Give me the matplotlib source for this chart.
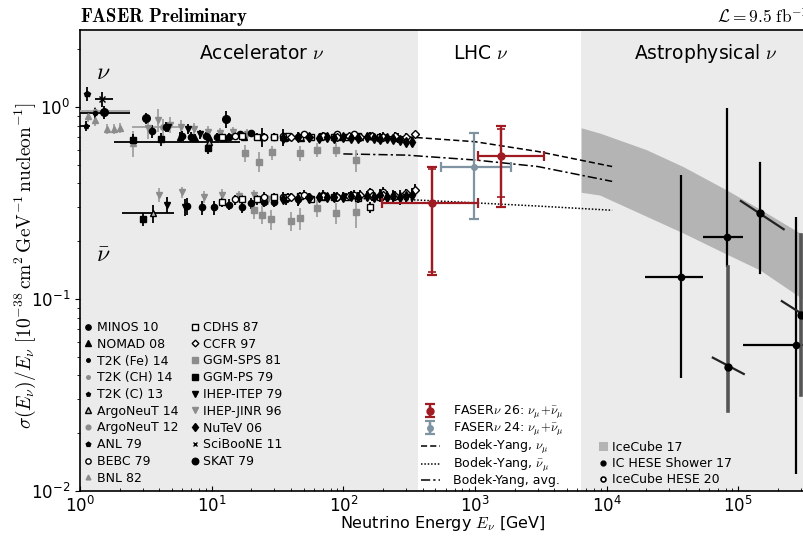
import matplotlib
matplotlib.use("Agg")
import numpy as np
import matplotlib.pyplot as plt
from matplotlib.lines import Line2D
from matplotlib.patches import Patch
from matplotlib.legend_handler import HandlerErrorbar
from matplotlib.transforms import blended_transform_factory

plt.rcParams["font.family"] = ["DejaVu Sans"]
plt.rcParams["mathtext.fontset"] = "cm"

# ---------------- accelerator data (E in GeV, sigma/E in 1e-38 cm^2/GeV) ----------------
anl_E = [1.13]
anl_y = [1.17]
anl_err = [0.10]

bnl_E = [1.15, 1.30, 1.60, 1.80, 2.00, 2.53]
bnl_y = [0.90, 0.86, 0.77, 0.77, 0.78, 0.65]
bnl_err = [0.06, 0.06, 0.05, 0.05, 0.05, 0.10]

sciboone_E = [1.47]
sciboone_y = [1.10]
sciboone_err = [0.10]
sciboone_Elo = [1.30]
sciboone_Ehi = [1.78]

skat_E = [1.52, 3.17, 12.8]
skat_y = [0.94, 0.876, 0.866]
skat_err = [0.07, 0.06, 0.09]

t2k_fe_E = [1.30]
t2k_fe_y = [0.93]
t2k_fe_err = [0.06]
t2k_fe_Elo = [0.6]
t2k_fe_Ehi = [2.4]

t2k_ch_E = [1.30]
t2k_ch_y = [0.955]
t2k_ch_err = [0.05]
t2k_ch_Elo = [0.6]
t2k_ch_Ehi = [2.4]

t2k_c_E = [1.11]
t2k_c_y = [0.80]
t2k_c_err = [0.05]
t2k_c_Elo = [0.6]
t2k_c_Ehi = [1.2]

argo14_nu_E = [9.6]
argo14_nu_y = [0.66]
argo14_nu_err = [0.03]
argo14_nu_Elo = [1.8]
argo14_nu_Ehi = [16.4]
argo14_nb_E = [3.6]
argo14_nb_y = [0.28]
argo14_nb_err = [0.03]
argo14_nb_Elo = [2.1]
argo14_nb_Ehi = [5.2]

argo12_E = [4.3]
argo12_y = [0.79]
argo12_err = [0.08]
argo12_Elo = [2.5]
argo12_Ehi = [5.7]

minos_nu_E = [3.5, 4.5, 6.0, 7.0, 9.0, 11.0, 13.5, 16.5, 20.0, 25.0, 30.0, 37.0, 45.0]
minos_nu_y = [0.75, 0.79, 0.71, 0.70, 0.71, 0.70, 0.70, 0.72, 0.73, 0.70, 0.70, 0.69, 0.70]
minos_nu_err = [0.06, 0.05, 0.04, 0.04, 0.03, 0.03, 0.03, 0.03, 0.03, 0.03, 0.03, 0.03, 0.04]
minos_nb_E = [6.5, 8.5, 10.5, 13.5, 17.0, 20.0, 25.0, 30.0, 37.0, 45.0]
minos_nb_y = [0.305, 0.30, 0.30, 0.31, 0.30, 0.315, 0.32, 0.32, 0.33, 0.33]
minos_nb_err = [0.03, 0.025, 0.025, 0.02, 0.02, 0.02, 0.02, 0.02, 0.02, 0.025]

nomad_E = [5.7, 7.5, 9.5, 12.5, 17.5, 24, 35, 48, 67, 95, 135, 190, 260]
nomad_y = [0.70, 0.69, 0.70, 0.69, 0.70, 0.70, 0.70, 0.69, 0.70, 0.70, 0.70, 0.69, 0.69]
nomad_err = [0.04, 0.03, 0.03, 0.03, 0.03, 0.08, 0.07, 0.03, 0.03, 0.03, 0.03, 0.04, 0.04]

nutev_E = [35, 45, 55, 65, 75, 85, 100, 115, 130, 150, 170, 190, 215, 240, 270, 300, 330]
nutev_nu_y = [0.69, 0.70, 0.70, 0.69, 0.70, 0.69, 0.70, 0.69, 0.69, 0.70, 0.69, 0.68,
              0.69, 0.68, 0.67, 0.66, 0.66]
nutev_nu_err = [0.02, 0.02, 0.02, 0.02, 0.02, 0.02, 0.02, 0.02, 0.02, 0.03, 0.03, 0.03,
                0.03, 0.03, 0.03, 0.04, 0.04]
nutev_nb_y = [0.33, 0.33, 0.335, 0.34, 0.34, 0.34, 0.34, 0.345, 0.34, 0.345, 0.34, 0.35,
              0.34, 0.345, 0.34, 0.345, 0.35]
nutev_nb_err = [0.015, 0.015, 0.015, 0.015, 0.015, 0.02, 0.02, 0.02, 0.02, 0.02, 0.02, 0.025,
                0.025, 0.025, 0.03, 0.03, 0.03]

ccfr_E = [40, 55, 70, 90, 110, 135, 165, 200, 245, 300, 350]
ccfr_nu_y = [0.70, 0.70, 0.71, 0.70, 0.71, 0.70, 0.71, 0.70, 0.71, 0.70, 0.72]
ccfr_nu_err = [0.02, 0.02, 0.02, 0.02, 0.02, 0.02, 0.02, 0.02, 0.03, 0.03, 0.03]
ccfr_nb_y = [0.34, 0.34, 0.345, 0.34, 0.345, 0.35, 0.345, 0.35, 0.345, 0.355, 0.37]
ccfr_nb_err = [0.015, 0.015, 0.015, 0.015, 0.015, 0.02, 0.02, 0.02, 0.02, 0.02, 0.025]

cdhs_E = [12, 17, 22, 30, 38, 47, 57, 70, 85, 105, 130, 160, 190]
cdhs_nu_y = [0.70, 0.71, 0.70, 0.70, 0.71, 0.70, 0.70, 0.71, 0.70, 0.70, 0.71, 0.71, 0.70]
cdhs_nu_err = [0.03, 0.03, 0.03, 0.03, 0.02, 0.02, 0.02, 0.02, 0.02, 0.02, 0.02, 0.03, 0.03]
cdhs_nb_y = [0.32, 0.33, 0.33, 0.34, 0.34, 0.345, 0.33, 0.34, 0.34, 0.34, 0.335, 0.30, 0.34]
cdhs_nb_err = [0.02, 0.02, 0.02, 0.015, 0.015, 0.015, 0.015, 0.015, 0.015, 0.015, 0.02, 0.02, 0.02]

bebc_E = [15, 25, 35, 50, 70, 90, 120, 160, 200]
bebc_nu_y = [0.71, 0.70, 0.71, 0.72, 0.71, 0.72, 0.72, 0.71, 0.70]
bebc_nu_err = [0.03, 0.03, 0.03, 0.03, 0.03, 0.03, 0.03, 0.03, 0.04]
bebc_nb_y = [0.33, 0.34, 0.34, 0.35, 0.35, 0.34, 0.35, 0.36, 0.36]
bebc_nb_err = [0.02, 0.02, 0.02, 0.02, 0.02, 0.02, 0.02, 0.02, 0.025]

ggmsps_nu_E = [18, 23, 28.5, 47, 63, 88, 124]
ggmsps_nu_y = [0.575, 0.52, 0.58, 0.575, 0.60, 0.60, 0.53]
ggmsps_nu_err = [0.06, 0.06, 0.05, 0.05, 0.05, 0.05, 0.07]
ggmsps_nb_E = [21, 24, 28, 40, 47, 63, 88, 124]
ggmsps_nb_y = [0.29, 0.275, 0.26, 0.255, 0.264, 0.298, 0.28, 0.284]
ggmsps_nb_err = [0.03, 0.03, 0.03, 0.03, 0.035, 0.03, 0.035, 0.05]

ggmps_nu_E = [2.53, 4.12, 9.4]
ggmps_nu_y = [0.67, 0.68, 0.61]
ggmps_nu_err = [0.05, 0.05, 0.04]
ggmps_nb_E = [3.0]
ggmps_nb_y = [0.26]
ggmps_nb_err = [0.02]

ihepitep_nu_E = [4.7, 6.6, 8.2]
ihepitep_nu_y = [0.79, 0.77, 0.72]
ihepitep_nu_err = [0.05, 0.05, 0.04]
ihepitep_nb_E = [4.6, 6.3]
ihepitep_nb_y = [0.31, 0.30]
ihepitep_nb_err = [0.03, 0.03]

ihepjinr_nu_E = [3.3, 3.9, 4.8, 5.8, 7.3, 9.3, 11.5, 14.5, 18.5]
ihepjinr_nu_y = [0.78, 0.86, 0.81, 0.79, 0.77, 0.74, 0.73, 0.74, 0.72]
ihepjinr_nu_err = [0.10, 0.12, 0.08, 0.07, 0.06, 0.06, 0.05, 0.05, 0.05]
ihepjinr_nb_E = [4.0, 6.0, 8.7, 12.0, 16.0, 21.0, 27.0]
ihepjinr_nb_y = [0.35, 0.36, 0.34, 0.35, 0.345, 0.35, 0.33]
ihepjinr_nb_err = [0.03, 0.025, 0.025, 0.025, 0.02, 0.02, 0.02]

# ---------------- LHC data ----------------
faser26_E = [471, 1573]
faser26_y = [0.316, 0.556]
faser26_Elo = [196, 1052]
faser26_Ehi = [1052, 3335]
faser26_ylo = [0.133, 0.30]
faser26_yhi = [0.487, 0.796]
faser26_stat_lo = [0.139, 0.34]
faser26_stat_hi = [0.475, 0.77]

faser24_E = [980]
faser24_y = [0.487]
faser24_Elo = [551]
faser24_Ehi = [1875]
faser24_ylo = [0.26]
faser24_yhi = [0.73]

# Bodek-Yang model curves
by_E = [100, 300, 1000, 3000, 11000]
by_nu = [0.70, 0.70, 0.66, 0.587, 0.49]
by_nubar = [0.335, 0.33, 0.317, 0.305, 0.29]
by_avg = [0.57, 0.562, 0.53, 0.49, 0.41]

# ---------------- astrophysical data ----------------
ice_E = [6400, 8870, 2.0e4, 3.8e4, 8.2e4, 1.46e5, 2.93e5, 1e6]
ice_hi = [0.78, 0.732, 0.60, 0.49, 0.369, 0.294, 0.221, 0.135]
ice_lo = [0.36, 0.348, 0.27, 0.221, 0.171, 0.1416, 0.1025, 0.058]

shower_E = [3.66e4, 8.2e4, 2.73e5]
shower_y = [0.130, 0.21, 0.0576]
shower_ylo = [0.0387, 0.147, 0.0123]
shower_yhi = [0.443, 0.99, 0.268]
shower_Elo = [1.95e4, 5.37e4, 1.08e5]
shower_Ehi = [5.37e4, 1.08e5, 7e5]

hese_E = [1.46e5, 8.3e4, 3.0e5]
hese_y = [0.28, 0.044, 0.0825]
hese_ylo = [0.137, 0.026, 0.0317]
hese_yhi = [0.51, 0.147, 0.215]
hese_diag_E0 = [1.045e5, 6.4e4, 2.14e5]
hese_diag_y0 = [0.324, 0.0495, 0.0975]
hese_diag_E1 = [2.21e5, 1.10e5, 4.3e5]
hese_diag_y1 = [0.231, 0.0407, 0.072]

# ---------------- styles ----------------
K = "black"
G = "#8c8c8c"
GE = "#a0a0a0"
RED = "#a01a22"
BLUEGRAY = "#7f93a3"
SHADE = "#ebebeb"

styles = {
    "MINOS 10": dict(marker="o", color=K, mfc=K, ms=4.5),
    "NOMAD 08": dict(marker="^", color=K, mfc=K, ms=4.5),
    "T2K (Fe) 14": dict(marker="o", color=K, mfc=K, ms=3),
    "T2K (CH) 14": dict(marker="o", color=G, mfc=G, ms=3),
    "T2K (C) 13": dict(marker="p", color=K, mfc=K, ms=3.5),
    "ArgoNeuT 14": dict(marker="^", color=K, mfc="#bbbbbb", ms=4.5),
    "ArgoNeuT 12": dict(marker="o", color=G, mfc=G, ms=4),
    "ANL 79": dict(marker="p", color=K, mfc=K, ms=4),
    "BEBC 79": dict(marker="o", color=K, mfc="white", ms=4.5),
    "BNL 82": dict(marker="^", color=G, mfc=G, ms=4),
    "CDHS 87": dict(marker="s", color=K, mfc="white", ms=4.5),
    "CCFR 97": dict(marker="D", color=K, mfc="white", ms=4),
    "GGM-SPS 81": dict(marker="s", color=G, mfc=G, ms=5),
    "GGM-PS 79": dict(marker="s", color=K, mfc=K, ms=5),
    "IHEP-ITEP 79": dict(marker="v", color=K, mfc=K, ms=5),
    "IHEP-JINR 96": dict(marker="v", color=G, mfc=G, ms=5),
    "NuTeV 06": dict(marker="d", color=K, mfc=K, ms=5),
    "SciBooNE 11": dict(marker="x", color=K, mfc=K, ms=4),
    "SKAT 79": dict(marker="o", color=K, mfc=K, ms=5.5),
}

# what gets drawn: (label, E, y, yerr, Elo, Ehi)
accel = [
    ("ANL 79", anl_E, anl_y, anl_err, None, None),
    ("BNL 82", bnl_E, bnl_y, bnl_err, None, None),
    ("SciBooNE 11", sciboone_E, sciboone_y, sciboone_err, sciboone_Elo, sciboone_Ehi),
    ("T2K (CH) 14", t2k_ch_E, t2k_ch_y, t2k_ch_err, t2k_ch_Elo, t2k_ch_Ehi),
    ("T2K (Fe) 14", t2k_fe_E, t2k_fe_y, t2k_fe_err, t2k_fe_Elo, t2k_fe_Ehi),
    ("T2K (C) 13", t2k_c_E, t2k_c_y, t2k_c_err, t2k_c_Elo, t2k_c_Ehi),
    ("ArgoNeuT 12", argo12_E, argo12_y, argo12_err, argo12_Elo, argo12_Ehi),
    ("ArgoNeuT 14", argo14_nu_E, argo14_nu_y, argo14_nu_err, argo14_nu_Elo, argo14_nu_Ehi),
    ("ArgoNeuT 14", argo14_nb_E, argo14_nb_y, argo14_nb_err, argo14_nb_Elo, argo14_nb_Ehi),
    ("GGM-SPS 81", ggmsps_nu_E, ggmsps_nu_y, ggmsps_nu_err, None, None),
    ("GGM-SPS 81", ggmsps_nb_E, ggmsps_nb_y, ggmsps_nb_err, None, None),
    ("IHEP-JINR 96", ihepjinr_nu_E, ihepjinr_nu_y, ihepjinr_nu_err, None, None),
    ("IHEP-JINR 96", ihepjinr_nb_E, ihepjinr_nb_y, ihepjinr_nb_err, None, None),
    ("NOMAD 08", nomad_E, nomad_y, nomad_err, None, None),
    ("MINOS 10", minos_nu_E, minos_nu_y, minos_nu_err, None, None),
    ("MINOS 10", minos_nb_E, minos_nb_y, minos_nb_err, None, None),
    ("CDHS 87", cdhs_E, cdhs_nu_y, cdhs_nu_err, None, None),
    ("CDHS 87", cdhs_E, cdhs_nb_y, cdhs_nb_err, None, None),
    ("BEBC 79", bebc_E, bebc_nu_y, bebc_nu_err, None, None),
    ("BEBC 79", bebc_E, bebc_nb_y, bebc_nb_err, None, None),
    ("CCFR 97", ccfr_E, ccfr_nu_y, ccfr_nu_err, None, None),
    ("CCFR 97", ccfr_E, ccfr_nb_y, ccfr_nb_err, None, None),
    ("NuTeV 06", nutev_E, nutev_nu_y, nutev_nu_err, None, None),
    ("NuTeV 06", nutev_E, nutev_nb_y, nutev_nb_err, None, None),
    ("GGM-PS 79", ggmps_nu_E, ggmps_nu_y, ggmps_nu_err, None, None),
    ("GGM-PS 79", ggmps_nb_E, ggmps_nb_y, ggmps_nb_err, None, None),
    ("IHEP-ITEP 79", ihepitep_nu_E, ihepitep_nu_y, ihepitep_nu_err, None, None),
    ("IHEP-ITEP 79", ihepitep_nb_E, ihepitep_nb_y, ihepitep_nb_err, None, None),
    ("SKAT 79", skat_E, skat_y, skat_err, None, None),
]

legend_order = ["MINOS 10", "NOMAD 08", "T2K (Fe) 14", "T2K (CH) 14", "T2K (C) 13",
                "ArgoNeuT 14", "ArgoNeuT 12", "ANL 79", "BEBC 79", "BNL 82",
                "CDHS 87", "CCFR 97", "GGM-SPS 81", "GGM-PS 79", "IHEP-ITEP 79",
                "IHEP-JINR 96", "NuTeV 06", "SciBooNE 11", "SKAT 79"]

# ---------------- figure ----------------
fig = plt.figure(figsize=(8.04, 5.40), dpi=100)
ax = fig.add_axes([80 / 804, 49 / 540, 790 / 804, 461 / 540])
ax.set_xscale("log")
ax.set_yscale("log")
ax.set_xlim(1, 1e6)
ax.set_ylim(1e-2, 2.52)
ax.set_xticks([1, 10, 100, 1e3, 1e4, 1e5])

ax.axvspan(1, 370, color=SHADE, lw=0, zorder=0)
ax.axvspan(6400, 1e6, color=SHADE, lw=0, zorder=0)

for label, E, y, err, elo, ehi in accel:
    st = styles[label]
    xerr = None
    if elo is not None:
        xerr = [np.array(E) - np.array(elo), np.array(ehi) - np.array(E)]
    ecol = GE if st["color"] == G else K
    ax.errorbar(E, y, yerr=err, xerr=xerr, fmt=st["marker"], ms=st["ms"],
                color=st["color"], mfc=st["mfc"], mec=st["color"], mew=1.0,
                ecolor=ecol, elinewidth=1.3, capsize=0, zorder=3)

# Bodek-Yang curves
ax.plot(by_E, by_nu, color=K, ls=(0, (4, 2)), lw=1.1, zorder=2)
ax.plot(by_E, by_nubar, color=K, ls=(0, (1, 1.2)), lw=1.1, zorder=2)
ax.plot(by_E, by_avg, color=K, ls=(0, (6, 2, 1.5, 2)), lw=1.1, zorder=2)

# FASER
f26 = ax.errorbar(faser26_E, faser26_y,
                  yerr=[np.array(faser26_y) - np.array(faser26_ylo),
                        np.array(faser26_yhi) - np.array(faser26_y)],
                  xerr=[np.array(faser26_E) - np.array(faser26_Elo),
                        np.array(faser26_Ehi) - np.array(faser26_E)],
                  fmt="o", ms=5, color=RED, elinewidth=1.6, capsize=3.5, capthick=1.6, zorder=5)
ax.errorbar(faser26_E, faser26_y,
            yerr=[np.array(faser26_y) - np.array(faser26_stat_lo),
                  np.array(faser26_stat_hi) - np.array(faser26_y)],
            fmt="none", ecolor=RED, elinewidth=1.6, capsize=3, capthick=1.2, zorder=5)
f24 = ax.errorbar(faser24_E, faser24_y,
                  yerr=[np.array(faser24_y) - np.array(faser24_ylo),
                        np.array(faser24_yhi) - np.array(faser24_y)],
                  xerr=[np.array(faser24_E) - np.array(faser24_Elo),
                        np.array(faser24_Ehi) - np.array(faser24_E)],
                  fmt="o", ms=4, color=BLUEGRAY, elinewidth=1.6, capsize=3.5, capthick=1.6, zorder=4)

# IceCube band and points
ax.fill_between(ice_E, ice_lo, ice_hi, color="#b4b4b4", lw=0, zorder=1)
ax.errorbar(shower_E, shower_y,
            yerr=[np.array(shower_y) - np.array(shower_ylo),
                  np.array(shower_yhi) - np.array(shower_y)],
            xerr=[np.array(shower_E) - np.array(shower_Elo),
                  np.array(shower_Ehi) - np.array(shower_E)],
            fmt="o", ms=4.5, color=K, elinewidth=1.6, capsize=0, zorder=4)
hese_bar_colors = [K, "#555555", "#555555"]
hese_bar_widths = [1.6, 2.6, 2.6]
for i in range(len(hese_E)):
    ax.plot([hese_E[i], hese_E[i]], [hese_ylo[i], hese_yhi[i]],
            color=hese_bar_colors[i], lw=hese_bar_widths[i], zorder=4)
    ax.plot([hese_diag_E0[i], hese_diag_E1[i]], [hese_diag_y0[i], hese_diag_y1[i]],
            color="#222222", lw=1.6, zorder=4)
ax.plot(hese_E, hese_y, "o", ms=5, color=K, ls="none", zorder=5)

# axes styling
for sp in ax.spines.values():
    sp.set_linewidth(1.2)
ax.tick_params(axis="both", which="major", labelsize=12)
ax.tick_params(axis="x", which="both", direction="in")
ax.tick_params(axis="y", which="both", direction="out")

ax.set_xlabel(r"Neutrino Energy $E_\nu$ [GeV]", fontsize=11.5)
ax.xaxis.set_label_coords((443 - 80) / 790, -0.05)
ax.set_ylabel(r"$\sigma(E_\nu)/E_\nu\ [10^{-38}\,\mathrm{cm}^2\,\mathrm{GeV}^{-1}\,"
              r"\mathrm{nucleon}^{-1}]$", fontsize=14)
ax.yaxis.set_label_coords(-0.053, 0.49)

trans = blended_transform_factory(ax.transData, ax.transAxes)
ax.text(24, 0.95, r"Accelerator $\nu$", transform=trans, ha="center", va="center", fontsize=13.5)
ax.text(1110, 0.95, r"LHC $\nu$", transform=trans, ha="center", va="center", fontsize=13.5)
ax.text(5.66e4, 0.95, r"Astrophysical $\nu$", transform=trans, ha="center", va="center", fontsize=13.5)
ax.text(16 / 790, (491 - 72) / 461, r"$\nu$", transform=ax.transAxes, ha="left", va="center", fontsize=17)
ax.text(16 / 790, (491 - 255) / 461, r"$\bar{\nu}$", transform=ax.transAxes, ha="left", va="center", fontsize=17)

fig.text(80 / 804, 1 - 17 / 540, r"$\mathbf{FASER\ Preliminary}$", ha="left", va="center", fontsize=13.5)
fig.text(717 / 804, 1 - 17 / 540, r"$\mathcal{L} = 9.5\ \mathrm{fb}^{-1}$", ha="left", va="center", fontsize=12.5)

# legend: accelerator experiments
acc_handles = []
for lab in legend_order:
    st = styles[lab]
    acc_handles.append(Line2D([], [], marker=st["marker"], ls="none", ms=st["ms"] * 0.85,
                              color=st["color"], mfc=st["mfc"], mec=st["color"], mew=1.0))
leg1 = ax.legend(acc_handles, legend_order, ncol=2, loc="upper left",
                 bbox_to_anchor=(83 / 804, 1 - 321 / 540), bbox_transform=fig.transFigure,
                 frameon=False, fontsize=9, handlelength=0.8, handletextpad=0.3,
                 labelspacing=0.3, columnspacing=0.9, borderpad=0, borderaxespad=0)
ax.add_artist(leg1)

# legend: FASER + models
by_nu_h = Line2D([], [], color=K, ls=(0, (4, 2)), lw=1.1)
by_nb_h = Line2D([], [], color=K, ls=(0, (1, 1.2)), lw=1.1)
by_av_h = Line2D([], [], color=K, ls=(0, (6, 2, 1.5, 2)), lw=1.1)
leg2 = ax.legend([f26, f24, by_nu_h, by_nb_h, by_av_h],
                 [r"FASER$\nu$ 26: $\nu_\mu\!+\!\bar{\nu}_\mu$",
                  r"FASER$\nu$ 24: $\nu_\mu\!+\!\bar{\nu}_\mu$",
                  r"Bodek-Yang, $\nu_\mu$", r"Bodek-Yang, $\bar{\nu}_\mu$", "Bodek-Yang, avg."],
                 loc="upper left", bbox_to_anchor=(421 / 804, 1 - 404 / 540),
                 bbox_transform=fig.transFigure, frameon=False, fontsize=9,
                 handlelength=1.5, handletextpad=1.1, labelspacing=0.0,
                 borderpad=0, borderaxespad=0,
                 handler_map={type(f26): HandlerErrorbar(xerr_size=0.0001, yerr_size=0.55)})
ax.add_artist(leg2)

# legend: IceCube
ice_h = Patch(facecolor="#b4b4b4", edgecolor="none")
sh_h = Line2D([], [], marker="o", ls="none", ms=3.5, color=K)
he_h = Line2D([], [], marker="o", ls="none", ms=3.5, color=K, mfc="white", mew=1.2)
ax.legend([ice_h, sh_h, he_h], ["IceCube 17", "IC HESE Shower 17", "IceCube HESE 20"],
          loc="upper left", bbox_to_anchor=(599 / 804, 1 - 441 / 540),
          bbox_transform=fig.transFigure, frameon=False, fontsize=9,
          handlelength=0.7, handletextpad=0.35, labelspacing=0.25,
          borderpad=0, borderaxespad=0)

fig.savefig("out.png", dpi=100)
